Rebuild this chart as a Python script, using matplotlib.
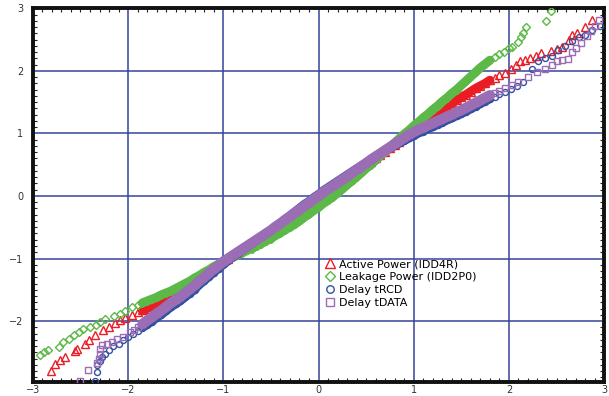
import numpy as np
import matplotlib.pyplot as plt
from matplotlib.ticker import MultipleLocator

# normal quantiles shared by the dense middle part of every series
q_mid = [-1.90, -1.85, -1.80, -1.75, -1.70, -1.65, -1.60, -1.55, -1.50, -1.45,
         -1.40, -1.35, -1.30, -1.25, -1.20, -1.15, -1.10, -1.05, -1.00, -0.95,
         -0.90, -0.85, -0.80, -0.75, -0.70, -0.65, -0.60, -0.55, -0.50, -0.45,
         -0.40, -0.35, -0.30, -0.25, -0.20, -0.15, -0.10, -0.05, 0.00, 0.05,
         0.10, 0.15, 0.20, 0.25, 0.30, 0.35, 0.40, 0.45, 0.50, 0.55,
         0.60, 0.65, 0.70, 0.75, 0.80, 0.85, 0.90, 0.95, 1.00, 1.05,
         1.10, 1.15, 1.20, 1.25, 1.30, 1.35, 1.40, 1.45, 1.50, 1.55,
         1.60, 1.65, 1.70, 1.75, 1.80, 1.85, 1.90]

# Active Power (IDD4R)
idd4r_lo_x = [-2.81, -2.77, -2.71, -2.66, -2.56, -2.54, -2.45, -2.41, -2.35, -2.26,
              -2.20, -2.14, -2.08, -2.03, -1.96]
idd4r_lo_y = [-2.80, -2.68, -2.62, -2.57, -2.48, -2.44, -2.36, -2.30, -2.22, -2.14,
              -2.10, -2.03, -1.99, -1.95, -1.90]
idd4r_mid = [-1.86, -1.83, -1.80, -1.76, -1.72, -1.68, -1.65, -1.61, -1.57, -1.52,
             -1.47, -1.42, -1.37, -1.32, -1.26, -1.20, -1.15, -1.10, -1.05, -1.00,
             -0.95, -0.91, -0.86, -0.81, -0.77, -0.72, -0.68, -0.63, -0.58, -0.53,
             -0.48, -0.43, -0.38, -0.33, -0.28, -0.22, -0.17, -0.11, -0.06, -0.01,
             0.05, 0.10, 0.16, 0.21, 0.27, 0.32, 0.38, 0.43, 0.49, 0.54,
             0.60, 0.65, 0.71, 0.76, 0.82, 0.87, 0.93, 0.98, 1.04, 1.09,
             1.15, 1.21, 1.26, 1.31, 1.37, 1.43, 1.48, 1.53, 1.58, 1.62,
             1.67, 1.72, 1.76, 1.80, 1.85, 1.89, 1.93]
idd4r_hi_x = [1.96, 2.02, 2.07, 2.12, 2.17, 2.22, 2.28, 2.34, 2.44, 2.50,
              2.56, 2.63, 2.66, 2.72, 2.80, 2.87]
idd4r_hi_y = [1.97, 2.03, 2.09, 2.15, 2.18, 2.21, 2.23, 2.29, 2.32, 2.35,
              2.38, 2.50, 2.57, 2.60, 2.70, 2.81]

# Leakage Power (IDD2P0)
idd2p0_lo_x = [-2.93, -2.88, -2.84, -2.73, -2.68, -2.62, -2.57, -2.52, -2.47, -2.40,
               -2.34, -2.29, -2.24, -2.15, -2.09, -2.03, -1.96]
idd2p0_lo_y = [-2.54, -2.50, -2.46, -2.41, -2.34, -2.29, -2.22, -2.17, -2.12, -2.09,
               -2.06, -2.01, -1.97, -1.92, -1.88, -1.84, -1.78]
idd2p0_mid = [-1.75, -1.71, -1.68, -1.65, -1.62, -1.58, -1.55, -1.52, -1.48, -1.44,
              -1.40, -1.36, -1.31, -1.27, -1.22, -1.18, -1.13, -1.09, -1.04, -1.01,
              -0.98, -0.94, -0.91, -0.87, -0.84, -0.80, -0.76, -0.72, -0.68, -0.63,
              -0.59, -0.54, -0.50, -0.45, -0.40, -0.34, -0.29, -0.23, -0.18, -0.12,
              -0.07, -0.01, 0.05, 0.11, 0.18, 0.24, 0.31, 0.37, 0.44, 0.50,
              0.57, 0.64, 0.71, 0.78, 0.85, 0.92, 0.99, 1.05, 1.12, 1.18,
              1.25, 1.31, 1.38, 1.44, 1.51, 1.57, 1.64, 1.70, 1.77, 1.84,
              1.91, 1.98, 2.05, 2.11, 2.17, 2.22, 2.27]
idd2p0_hi_x = [1.95, 2.00, 2.03, 2.10, 2.13, 2.15, 2.18, 2.39, 2.44]
idd2p0_hi_y = [2.30, 2.36, 2.38, 2.46, 2.54, 2.60, 2.70, 2.80, 2.96]

# Delay tRCD
trcd_lo_x = [-2.35, -2.33, -2.33, -2.30, -2.27, -2.24, -2.20, -2.16, -2.10, -2.05,
             -2.00, -1.95]
trcd_lo_y = [-2.96, -2.81, -2.71, -2.64, -2.58, -2.52, -2.46, -2.40, -2.36, -2.30,
             -2.25, -2.21]
trcd_mid = [-2.16, -2.11, -2.06, -2.01, -1.95, -1.90, -1.84, -1.78, -1.73, -1.68,
            -1.62, -1.56, -1.50, -1.42, -1.36, -1.29, -1.23, -1.16, -1.10, -1.04,
            -0.98, -0.93, -0.87, -0.82, -0.76, -0.71, -0.65, -0.60, -0.54, -0.48,
            -0.43, -0.37, -0.31, -0.25, -0.19, -0.13, -0.08, -0.02, 0.03, 0.09,
            0.14, 0.19, 0.24, 0.29, 0.34, 0.39, 0.44, 0.49, 0.54, 0.59,
            0.64, 0.68, 0.72, 0.76, 0.80, 0.84, 0.88, 0.92, 0.96, 1.00,
            1.03, 1.07, 1.10, 1.14, 1.17, 1.21, 1.24, 1.28, 1.31, 1.35,
            1.39, 1.43, 1.47, 1.51, 1.55, 1.59, 1.63]
trcd_hi_x = [1.96, 2.02, 2.08, 2.15, 2.24, 2.31, 2.38, 2.45, 2.52, 2.59,
             2.66, 2.74, 2.80, 2.87, 2.96]
trcd_hi_y = [1.67, 1.71, 1.76, 1.83, 2.03, 2.15, 2.20, 2.23, 2.34, 2.39,
             2.47, 2.54, 2.58, 2.66, 2.72]

# Delay tDATA
tdata_lo_x = [-2.50, -2.42, -2.33, -2.31, -2.29, -2.29, -2.27, -2.22, -2.17, -2.12,
              -2.05, -1.98, -1.94]
tdata_lo_y = [-2.96, -2.78, -2.67, -2.60, -2.52, -2.44, -2.39, -2.36, -2.33, -2.28,
              -2.25, -2.18, -2.14]
tdata_mid = [-2.10, -2.05, -1.99, -1.94, -1.88, -1.83, -1.77, -1.71, -1.66, -1.61,
             -1.55, -1.49, -1.43, -1.36, -1.30, -1.23, -1.17, -1.11, -1.05, -1.00,
             -0.95, -0.90, -0.85, -0.80, -0.75, -0.70, -0.65, -0.60, -0.55, -0.49,
             -0.44, -0.38, -0.33, -0.27, -0.22, -0.16, -0.11, -0.05, 0.00, 0.06,
             0.11, 0.16, 0.21, 0.26, 0.31, 0.37, 0.42, 0.47, 0.52, 0.58,
             0.63, 0.68, 0.73, 0.78, 0.83, 0.88, 0.93, 0.98, 1.02, 1.06,
             1.09, 1.13, 1.16, 1.20, 1.23, 1.27, 1.30, 1.34, 1.37, 1.41,
             1.45, 1.49, 1.53, 1.57, 1.61, 1.65, 1.68]
tdata_hi_x = [1.96, 2.03, 2.10, 2.20, 2.30, 2.38, 2.45, 2.50, 2.56, 2.62,
              2.66, 2.70, 2.76, 2.82, 2.86, 2.90, 2.95]
tdata_hi_y = [1.72, 1.77, 1.83, 1.90, 1.98, 2.03, 2.10, 2.15, 2.17, 2.19,
              2.30, 2.37, 2.45, 2.55, 2.63, 2.72, 2.82]

series = [
    ("Active Power (IDD4R)", idd4r_lo_x, idd4r_lo_y, idd4r_mid, idd4r_hi_x, idd4r_hi_y, "^", "#ea1d25", 6.5),
    ("Leakage Power (IDD2P0)", idd2p0_lo_x, idd2p0_lo_y, idd2p0_mid, idd2p0_hi_x, idd2p0_hi_y, "D", "#5db947", 6.5),
    ("Delay tRCD", trcd_lo_x, trcd_lo_y, trcd_mid, trcd_hi_x, trcd_hi_y, "o", "#3350a2", 6.0),
    ("Delay tDATA", tdata_lo_x, tdata_lo_y, tdata_mid, tdata_hi_x, tdata_hi_y, "s", "#9a6db5", 7.5),
]
sizes = {"^": 5.5, "D": 3.8, "o": 4.3, "s": 4.6}

fig = plt.figure(figsize=(6.09, 3.96), dpi=100)
ax = fig.add_axes([0.054, 0.036, 0.938, 0.943])

q = np.array(q_mid)
core = (q >= -1.85) & (q <= 1.8)
z = 3
for label, lo_x, lo_y, mid, hi_x, hi_y, mk, col, band_w in series:
    # the points crowd into a solid band through the middle quantiles
    ax.plot(q[core], np.array(mid)[core], color=col, lw=band_w,
            solid_capstyle="round", solid_joinstyle="round", zorder=z)
    xs = np.concatenate([lo_x, q_mid, hi_x])
    ys = np.concatenate([lo_y, mid, hi_y])
    ax.plot(xs, ys, ls="none", marker=mk, ms=sizes[mk], mfc="none",
            mec=col, mew=1.0, label=label, zorder=z + 0.5)
    z += 1

ax.set_xlim(-3, 3)
ax.set_ylim(-2.97, 3)
ax.set_xticks([-3, -2, -1, 0, 1, 2, 3])
ax.set_yticks([-2, -1, 0, 1, 2, 3])
ax.xaxis.set_minor_locator(MultipleLocator(0.1))
ax.yaxis.set_minor_locator(MultipleLocator(0.1))
ax.grid(True, which="major", color="#34449a", lw=1.1)
ax.set_axisbelow(True)

ax.tick_params(which="both", direction="in", top=True, right=True,
               labelsize=7, labelcolor="#333333", color="#222222")
ax.tick_params(which="major", length=0)
ax.tick_params(axis="x", which="major", pad=2.5)
ax.tick_params(axis="y", which="major", pad=7)
ax.tick_params(which="minor", length=3, width=0.8)
for side in ax.spines.values():
    side.set_linewidth(2.8)
    side.set_color("#111111")

leg = ax.legend(loc="upper left", bbox_to_anchor=(0.505, 0.34), frameon=False,
                fontsize=8, handlelength=0.8, handletextpad=0.4,
                labelspacing=0.25, markerscale=1.25, borderaxespad=0)

fig.savefig("out.png", dpi=100)
